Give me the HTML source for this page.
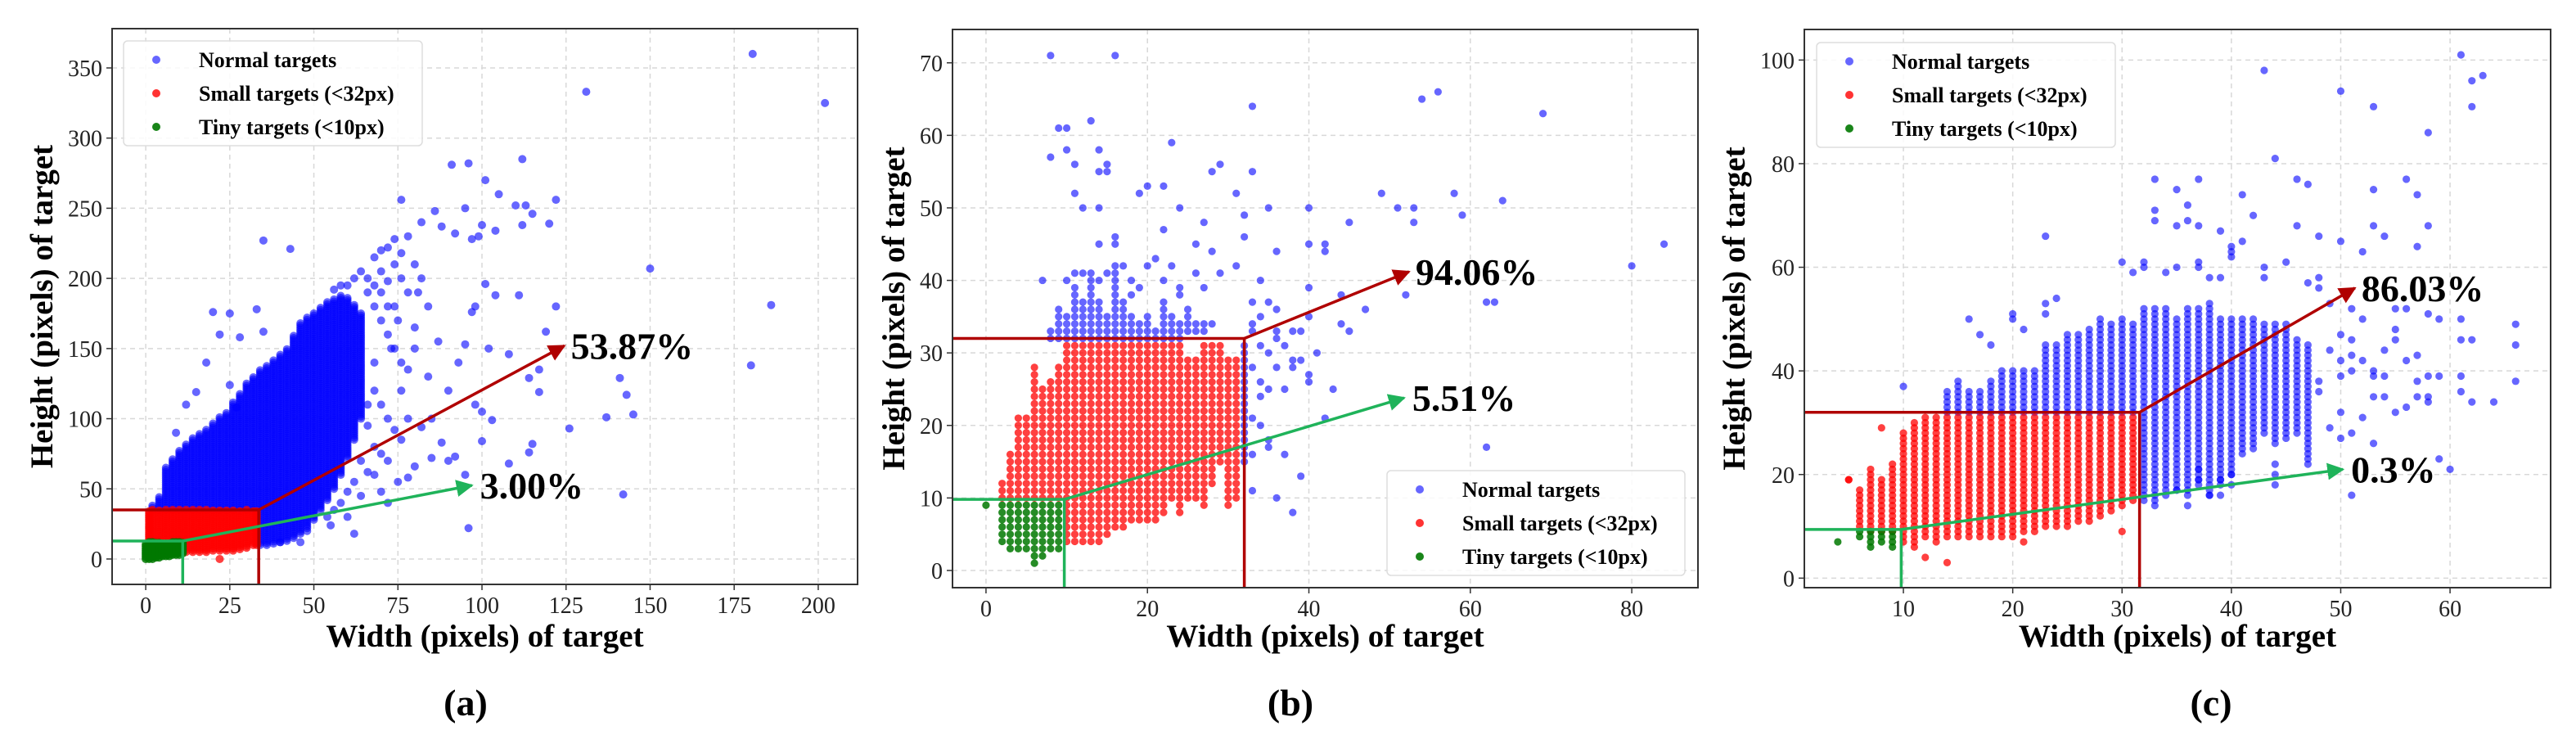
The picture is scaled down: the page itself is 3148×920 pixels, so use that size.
<!DOCTYPE html>
<html><head><meta charset="utf-8">
<style>
html,body{margin:0;padding:0;background:#fff;}
svg{display:block;font-family:"Liberation Serif",serif;}
</style></head>
<body>
<svg id="fig" width="3148" height="920" viewBox="0 0 3148 920" xmlns="http://www.w3.org/2000/svg">
<defs>
<marker id="arRed" viewBox="0 0 10 10" refX="9" refY="5" markerWidth="6" markerHeight="6" orient="auto"><path d="M0,0 L10,5 L0,10 z" fill="#b00000"/></marker>
<marker id="arGreen" viewBox="0 0 10 10" refX="9" refY="5" markerWidth="6" markerHeight="6" orient="auto"><path d="M0,0 L10,5 L0,10 z" fill="#1fb35a"/></marker>
</defs>
</svg>
<script>
// ---------- Panel (a) data ----------
const aXTicks = [0,25,50,75,100,125,150,175,200];
const aYTicks = [0,50,100,150,200,250,300,350];
const aGreenCols = [[0,0,11],[1,0,12],[2,0,12],[3,1,12],[4,1,12],[5,2,12],[6,2,12],[7,2,12],[8,3,12],[9,3,12],[10,3,12],[11,4,12]];
const aRedCols = [[1,10,35],[2,8,35],[4,6,35],[6,5,35],[8,5,35],[10,5,35],[12,5,35],[14,5,35],[16,5,35],[18,5,35],[20,6,35],[22,6,35],[24,6,35],[26,6,35],[28,7,35],[30,8,35],[32,10,35],[33,10,35]];
const aBlueCols = [[2,35,38],[4,35,45],[6,35,65],[8,35,72],[10,35,78],[12,35,82],[14,35,86],[16,35,90],[18,35,92],[20,35,97],[22,35,101],[24,35,105],[26,35,112],[28,35,118],[30,35,125],[32,35,130],[34,10,135],[36,10,138],[38,11,142],[40,12,146],[42,13,150],[44,15,160],[46,18,168],[48,22,172],[50,28,176],[52,35,180],[54,42,184],[56,50,186],[58,60,188],[60,72,186],[62,85,182],[64,100,176]];
const aBluePts = [[180.5,360],[131,333],[202,325],[35,227],[43,221],[91,281],[96,282],[112,285],[101,270],[105,260],[122,256],[76,256],[86,248],[95,250],[100,238],[110,252],[113,252],[115,246],[120,239],[112,238],[104,234],[88,237],[92,232],[97,228],[99,230],[82,240],[150,207],[186,181],[180,138],[141,129],[143,117],[145,103],[137,101],[142,46],[126,93],[122,180],[119,162],[108,146],[117,135],[114,129],[117,119],[100,105],[98,110],[103,99],[100,84],[115,82],[114,76],[108,68],[95,60],[96,22],[90,70],[85,72],[80,66],[78,58],[75,55],[72,40],[70,48],[62,18],[55,24],[48,20],[46,12],[40,12],[85,100],[90,120],[93,140],[98,180],[101,196],[104,188],[111,188],[97,176],[81,190],[75,170],[80,165],[84,180],[87,155],[95,153],[102,150],[9,90],[15,119],[18,140],[20,176],[25,175],[28,158],[33,178],[35,162],[22,160],[12,110],[25,124],[27,108],[88,83],[92,73],[82,94],[68,140],[73,150],[78,135],[66,110],
[66,200],[68,215],[70,220],[72,222],[74,228],[76,218],[78,230],[70,205],[72,198],[74,210],[66,190],[68,180],[70,170],[72,160],[74,150],[76,140],[68,120],[70,110],[72,100],[74,92],[76,85],[66,95],[68,80],[70,75],[64,70],[66,62],[62,55],[60,48],[58,40],[56,35],[54,30],[60,30],[64,45],[68,60],[72,70],[76,120],[78,190],[80,210],[82,200],[80,150],[84,130],[78,100],[62,200],[64,205],[60,195],[58,195],[56,192],[76,200],[74,180],[72,180],[70,190],[68,195]];
const aRedPts = [[22,0]];
const aRedLine = [33.6,35,124.5,152];
const aGreenLine = [11,12.8,97,52.5];
const aLabels = ["53.87%","3.00%"];

// ---------- Panel (b) data ----------
const bXTicks = [0,20,40,60,80];
const bYTicks = [0,10,20,30,40,50,60,70];
const bGreenCols = [[0,9,9],[2,4,9],[3,3,9],[4,3,9],[5,3,9],[6,1,9],[7,2,9],[8,3,9],[9,3,9]];
const bRedCols = [[2,10,12],[3,10,16],[4,10,21],[5,10,21],[6,10,28],[7,10,25],[8,10,26],[9,10,28],[10,4,31],[11,4,31],[12,4,31],[13,4,31],[14,4,31],[15,5,31],[16,6,31],[17,6,31],[18,7,31],[19,7,31],[20,7,31],[21,7,31],[22,8,31],[23,10,31],[24,8,31],[25,10,29],[26,10,29],[27,9,31],[28,12,31],[29,15,31],[30,9,29],[31,10,29]];
const bBlueCols = [[8,32,33],[9,32,36],[10,32,35],[11,32,39],[12,32,37],[13,32,41],[14,32,37],[15,32,35],[16,32,42],[17,32,37],[18,32,35],[19,32,34],[20,32,35],[21,32,33],[22,32,37],[23,32,35],[24,32,34],[25,33,36],[26,33,34],[27,33,34],[28,34,34],[32,15,31]];
const bBluePts = [[8,71],[16,71],[33,64],[13,62],[9,61],[10,61],[23,59],[8,57],[10,58],[14,58],[11,56],[15,56],[14,55],[15,55],[28,55],[29,56],[33,55],[11,52],[19,52],[20,53],[22,53],[12,50],[14,50],[24,50],[31,52],[32,49],[35,50],[40,50],[27,48],[22,47],[16,46],[32,46],[14,45],[16,45],[26,45],[28,44],[40,45],[42,45],[42,44],[36,44],[45,48],[49,52],[51,50],[53,50],[53,48],[58,52],[59,49],[64,51],[54,65],[56,66],[69,63],[84,45],[80,42],[62,37],[63,37],[52,38],[47,36],[44,34],[45,33],[44,38],[40,39],[40,35],[39,33],[38,33],[37,31],[36,33],[36,28],[35,30],[35,25],[34,26],[34,24],[33,28],[33,21],[34,20],[35,18],[35,17],[33,16],[33,11],[36,10],[37,16],[38,8],[39,13],[38,28],[39,29],[40,27],[40,26],[41,30],[43,25],[42,21],[62,17],[37,25],[34,31],[36,32],[38,29],[33,34],[34,35],[35,37],[36,36],[33,33],
[7,40],[12,41],[14,40],[18,40],[19,39],[20,42],[21,43],[22,40],[23,42],[24,39],[26,41],[27,39],[29,41],[31,42],[33,37],[34,40],[24,38],[18,38],[17,42],[15,41],[11,41],[10,40]];
const bRedLine = [32,32,52.4,41.2];
const bGreenLine = [9.7,9.8,51.8,23.8];
const bLabels = ["94.06%","5.51%"];

// ---------- Panel (c) data ----------
const cXTicks = [10,20,30,40,50,60];
const cYTicks = [0,20,40,60,80,100];
const cGreenCols = [[4,7,7],[6,8,9],[7,6,9],[8,7,9],[9,6,9]];
const cRedCols = [[5,19,19],[6,10,17],[7,9,21],[8,9,19],[9,9,22],[10,7,28],[11,6,30],[12,8,31],[13,7,31],[14,8,31],[15,8,31],[16,8,31],[17,8,31],[18,8,31],[19,8,31],[20,8,31],[21,9,31],[22,9,31],[23,10,31],[24,10,31],[25,10,31],[26,11,31],[27,11,31],[28,12,31],[29,13,31],[30,14,31],[31,15,31]];
const cRedPts = [[8,29],[12,4],[14,3],[21,7],[30,9],[5,19]];
const cBlueCols = [[14,32,36],[15,32,38],[16,32,36],[17,32,36],[18,32,38],[19,32,40],[20,32,40],[21,32,40],[22,32,40],[23,32,45],[24,32,45],[25,32,47],[26,32,47],[27,32,48],[28,32,50],[29,32,49],[30,32,50],[31,32,49],[32,15,52],[33,14,52],[34,16,52],[35,17,50],[36,16,52],[37,18,52],[38,16,53],[39,18,50],[40,20,50],[41,24,50],[42,25,50],[43,28,49],[44,26,49],[45,27,49],[46,28,46],[47,22,45]];
const cBluePts = [[61,101],[43,98],[63,97],[62,96],[62,91],[50,94],[53,91],[58,86],[44,81],[33,77],[37,77],[46,77],[47,76],[56,77],[53,75],[35,75],[36,72],[33,71],[41,74],[57,74],[33,69],[36,69],[37,68],[35,68],[42,70],[46,68],[53,68],[58,68],[23,66],[48,66],[50,65],[54,66],[39,67],[41,65],[40,64],[40,63],[30,61],[32,61],[45,61],[52,63],[57,64],[32,60],[34,59],[35,60],[43,60],[31,59],[37,60],[40,62],[38,58],[39,58],[43,58],[48,58],[47,57],[48,56],[37,61],[23,53],[24,54],[23,51],[16,50],[20,51],[20,50],[21,48],[17,47],[18,45],[10,37],[49,53],[51,52],[52,50],[55,52],[56,52],[58,51],[59,50],[61,50],[66,49],[66,45],[61,46],[62,46],[55,48],[50,47],[51,46],[51,43],[52,42],[50,42],[50,39],[51,40],[53,40],[53,39],[54,39],[54,35],[53,35],[55,32],[56,33],[57,35],[57,38],[58,39],[59,39],[56,42],[57,43],[58,35],[58,34],[61,36],[61,39],[62,34],[64,34],[66,38],[48,36],[49,29],[50,32],[50,27],[51,28],[51,16],[53,26],[52,31],[59,23],[60,21],[54,44],[55,46],[49,44],[48,38],[44,20],[44,22],[44,18],[40,18],[40,20],[39,19],[37,19],[37,21],[36,14],[35,17],[38,16],[39,16]];
const cRedLine = [31.6,32,51.3,56];
const cGreenLine = [9.8,9.4,50.2,21];
const cLabels = ["86.03%","0.3%"];

const NS = "http://www.w3.org/2000/svg";
const svg = document.getElementById('fig');
function mk(tag, attrs, parent){
  const e = document.createElementNS(NS, tag);
  for (const k in attrs) e.setAttribute(k, attrs[k]);
  (parent||svg).appendChild(e);
  return e;
}

const BLUE = "rgba(0,0,255,0.6)", RED = "rgba(255,0,0,0.75)", GREEN = "rgba(0,120,0,0.85)";

function panel(p){
  const g = mk('g', {});
  
  
  const xs = v => p.L + (v - p.xmin) / (p.xmax - p.xmin) * (p.R - p.L);
  const ys = v => p.B - (v - p.ymin) / (p.ymax - p.ymin) * (p.B - p.T);
  const clipId = 'clip' + p.id;
  const cp = mk('clipPath', {id: clipId}, g);
  mk('rect', {x:p.L, y:p.T, width:p.R-p.L, height:p.B-p.T}, cp);

  const grid = mk('g', {}, g);
  
  
  p.xt.forEach(t => mk('line', {x1:xs(t), x2:xs(t), y1:p.T, y2:p.B, stroke:'#d8d8d8', 'stroke-width':1.5, 'stroke-dasharray':'6,5'}, grid));
  p.yt.forEach(t => mk('line', {x1:p.L, x2:p.R, y1:ys(t), y2:ys(t), stroke:'#d8d8d8', 'stroke-width':1.5, 'stroke-dasharray':'6,5'}, grid));

  const pts = mk('g', {'clip-path':'url(#'+clipId+')'}, g);
  
  
  function cols(arr, color, step){
    arr.forEach(c => {
      for (let h = c[1]; h <= c[2] + 1e-9; h += step){
        mk('circle', {cx:xs(c[0]), cy:ys(h), r:p.r, fill:color}, pts);
      }
    });
  }
  function points(arr, color){
    arr.forEach(c => {
      const d = mk('circle', {cx:xs(c[0]), cy:ys(c[1]), r:p.r, fill:color}, pts);
      
      
    });
  }
  cols(p.blueCols, BLUE, p.hstep);
  points(p.bluePts, BLUE);
  cols(p.redCols, RED, p.hstep);
  points(p.redPts || [], RED);
  cols(p.greenCols, GREEN, p.hstep);

  function guide(l, color, marker, name){
    const gg = mk('g', {}, g);
    
    
    const x0 = xs(l[0]), y0 = ys(l[1]);
    mk('polyline', {points: p.L+','+y0+' '+x0+','+y0+' '+x0+','+p.B, fill:'none', stroke:color, 'stroke-width':3.5}, gg);
    mk('line', {x1:x0, y1:y0, x2:xs(l[2]), y2:ys(l[3]), stroke:color, 'stroke-width':3.5, 'marker-end':'url(#'+marker+')'}, gg);
    return [xs(l[2]), ys(l[3])];
  }
  const rEnd = guide(p.redLine, '#b00000', 'arRed', 'small-threshold-arrow');
  const gEnd = guide(p.greenLine, '#1fb35a', 'arGreen', 'tiny-threshold-arrow');
  const t1 = mk('text', {x:rEnd[0]+8, y:rEnd[1]+16, 'font-size':46, 'font-weight':'bold', fill:'#000'}, g);
  t1.textContent = p.labels[0];
  
  
  const t2 = mk('text', {x:gEnd[0]+10, y:gEnd[1]+16, 'font-size':46, 'font-weight':'bold', fill:'#000'}, g);
  t2.textContent = p.labels[1];
  
  

  const fr = mk('rect', {x:p.L, y:p.T, width:p.R-p.L, height:p.B-p.T, fill:'none', stroke:'#333', 'stroke-width':2}, g);
  
  

  const ax = mk('g', {}, g);
  
  
  p.xt.forEach(t => {
    mk('line', {x1:xs(t), x2:xs(t), y1:p.B, y2:p.B+7, stroke:'#333', 'stroke-width':1.5}, ax);
    const tx = mk('text', {x:xs(t), y:p.B+35, 'font-size':28, 'text-anchor':'middle', fill:'#222'}, ax);
    tx.textContent = t;
  });
  const ay = mk('g', {}, g);
  
  
  p.yt.forEach(t => {
    mk('line', {x1:p.L-7, x2:p.L, y1:ys(t), y2:ys(t), stroke:'#333', 'stroke-width':1.5}, ay);
    const tx = mk('text', {x:p.L-12, y:ys(t)+10, 'font-size':28, 'text-anchor':'end', fill:'#222'}, ay);
    tx.textContent = t;
  });
  const xt = mk('text', {x:(p.L+p.R)/2, y:790, 'font-size':39, 'font-weight':'bold', 'text-anchor':'middle'}, g);
  xt.textContent = 'Width (pixels) of target';
  
  
  const yt = mk('text', {x:0, y:0, 'font-size':39, 'font-weight':'bold', 'text-anchor':'middle', transform:'translate('+(p.ytx)+','+((p.T+p.B)/2)+') rotate(-90)'}, g);
  yt.textContent = 'Height (pixels) of target';
  
  
  const cap = mk('text', {x:p.capx, y:874, 'font-size':46, 'font-weight':'bold', 'text-anchor':'middle'}, g);
  cap.textContent = '(' + p.id + ')';
  
  

  const lg = mk('g', {}, g);
  
  
  mk('rect', {x:p.lg[0], y:p.lg[1], width:p.lg[2], height:p.lg[3], rx:5, fill:'rgba(255,255,255,0.85)', stroke:'#ddd', 'stroke-width':1.5}, lg);
  const names = ['Normal targets','Small targets (<32px)','Tiny targets (<10px)'];
  const colors = [BLUE, 'rgba(255,0,0,0.8)', 'rgba(0,120,0,0.9)'];
  for (let i = 0; i < 3; i++){
    const yy = p.lg[1] + 23 + i*41;
    mk('circle', {cx:p.lg[0]+40, cy:yy, r:5, fill:colors[i]}, lg);
    const t = mk('text', {x:p.lg[0]+92, y:yy+9, 'font-size':26, 'font-weight':'bold'}, lg);
    t.textContent = names[i];
    
    
  }
}

panel({id:'a', L:137, R:1048, T:35, B:714, xmin:-10, xmax:211.7, ymin:-18.1, ymax:378,
  xt:aXTicks, yt:aYTicks, r:5, hstep:1.5,
  blueCols:aBlueCols, bluePts:aBluePts, redCols:aRedCols, redPts:aRedPts, greenCols:aGreenCols,
  redLine:aRedLine, greenLine:aGreenLine, labels:aLabels,
  ytx:64, capx:569, lg:[151,50,365,128]});
panel({id:'b', L:1164, R:2075, T:36, B:718, xmin:-4.15, xmax:88.2, ymin:-2.37, ymax:74.6,
  xt:bXTicks, yt:bYTicks, r:4.6, hstep:1,
  blueCols:bBlueCols, bluePts:bBluePts, redCols:bRedCols, greenCols:bGreenCols,
  redLine:bRedLine, greenLine:bGreenLine, labels:bLabels,
  ytx:1105, capx:1577, lg:[1695,575,364,128]});
panel({id:'c', L:2205, R:3117, T:36, B:718, xmin:0.94, xmax:69.2, ymin:-1.84, ymax:105.9,
  xt:cXTicks, yt:cYTicks, r:4.6, hstep:1,
  blueCols:cBlueCols, bluePts:cBluePts, redCols:cRedCols, redPts:cRedPts, greenCols:cGreenCols,
  redLine:cRedLine, greenLine:cGreenLine, labels:cLabels,
  ytx:2132, capx:2702, lg:[2220,52,365,128]});
</script>
</body></html>
